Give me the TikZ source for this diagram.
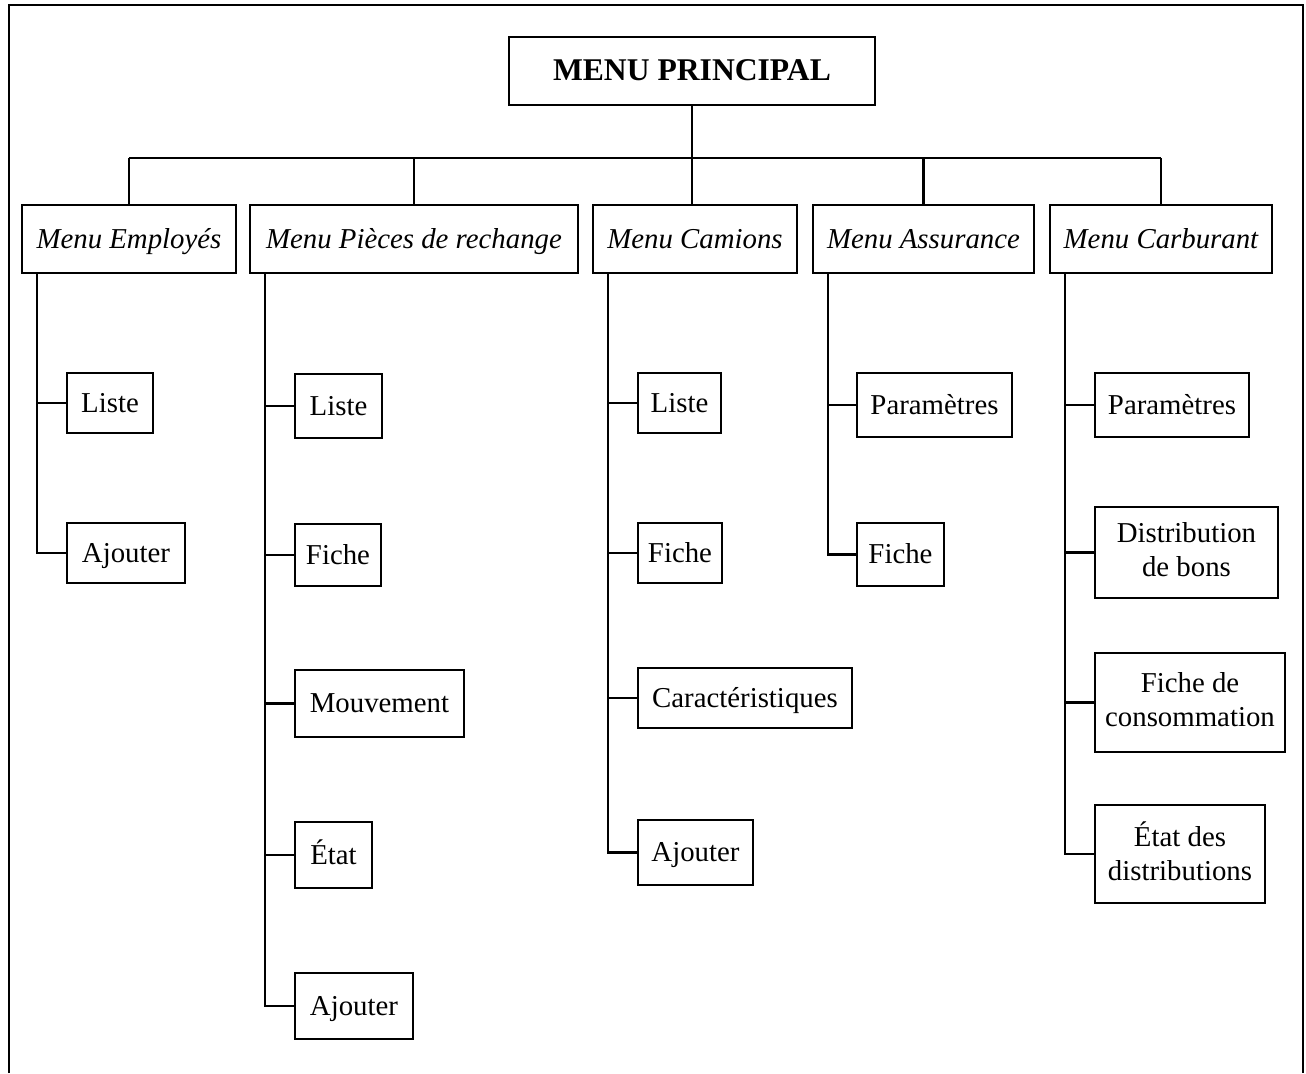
\documentclass[tikz,border=0pt]{standalone}
\usepackage{fontspec}
\setmainfont{Liberation Serif}
% balanced strut: keeps capital letters vertically centred in the boxes
\newcommand\capstrut{\rule[-3.2pt]{0pt}{17.2pt}}
\begin{document}
\begin{tikzpicture}[x=0.02cm, y=-0.02cm,
  box/.style={draw, line width=1pt, anchor=north west, inner sep=0pt, outer sep=0pt,
    align=center, font=\fontsize{16.4}{19.5}\selectfont,
    execute at begin node=\capstrut, execute at end node=\capstrut},
  menu/.style={box, font=\fontsize{16.4}{19.5}\selectfont\itshape},
  link/.style={line width=1.2pt, line join=miter}]
\useasboundingbox (0,0) rectangle (1306,1073);
% open outer frame
\draw[line width=1.1pt] (9,1073) -- (9,5) -- (1303,5) -- (1303,1073);

% root
\node[box, font=\fontsize{18}{20}\selectfont\bfseries, minimum width=7.32cm, minimum height=1.36cm] (main) at (509,37) {MENU PRINCIPAL};

% first level
\node[menu, minimum width=4.28cm, minimum height=1.36cm] (emp) at (22,205) {Menu Employés};
\node[menu, minimum width=6.56cm, minimum height=1.36cm] (pie) at (250,205) {Menu Pièces de rechange};
\node[menu, minimum width=4.08cm, minimum height=1.36cm] (cam) at (593,205) {Menu Camions};
\node[menu, minimum width=4.42cm, minimum height=1.36cm] (ass) at (813,205) {Menu Assurance};
\node[menu, minimum width=4.44cm, minimum height=1.36cm] (car) at (1050,205) {Menu Carburant};

% Employes
\node[box, minimum width=1.72cm, minimum height=1.2cm] (e1) at (67,373) {Liste};
\node[box, minimum width=2.36cm, minimum height=1.2cm] (e2) at (67,523) {Ajouter};

% Pieces de rechange
\node[box, minimum width=1.74cm, minimum height=1.28cm] (p1) at (295,374) {Liste};
\node[box, minimum width=1.72cm, minimum height=1.24cm] (p2) at (295,524) {Fiche};
\node[box, minimum width=3.38cm, minimum height=1.34cm] (p3) at (295,670) {Mouvement};
\node[box, minimum width=1.54cm, minimum height=1.32cm] (p4) at (295,822) {État};
\node[box, minimum width=2.36cm, minimum height=1.32cm] (p5) at (295,973) {Ajouter};

% Camions
\node[box, minimum width=1.66cm, minimum height=1.2cm] (c1) at (638,373) {Liste};
\node[box, minimum width=1.68cm, minimum height=1.2cm] (c2) at (638,523) {Fiche};
\node[box, minimum width=4.28cm, minimum height=1.2cm] (c3) at (638,668) {Caractéristiques};
\node[box, minimum width=2.3cm, minimum height=1.3cm] (c4) at (638,820) {Ajouter};

% Assurance
\node[box, minimum width=3.1cm, minimum height=1.28cm] (a1) at (857,373) {Paramètres};
\node[box, minimum width=1.74cm, minimum height=1.26cm] (a2) at (857,523) {Fiche};

% Carburant
\node[box, minimum width=3.08cm, minimum height=1.28cm] (k1) at (1095,373) {Paramètres};
\node[box, minimum width=3.66cm, minimum height=1.82cm] (k2) at (1095,507) {Distribution\\de bons};
\node[box, minimum width=3.8cm, minimum height=1.98cm] (k3) at (1095,653) {Fiche de\\consommation};
\node[box, minimum width=3.4cm, minimum height=1.96cm] (k4) at (1095,805) {État des\\distributions};

% root to first level
\coordinate (bus) at (692,158);
\draw[link] (main.south) -- (main.south |- cam.north);
\draw[link] (emp.north |- bus) -- (car.north |- bus);
\foreach \m in {emp,pie,ass,car}
  \draw[link] (\m.north |- bus) -- (\m.north);

% trunks and branches
\foreach \m/\kids in {emp/{e1,e2}, pie/{p1,p2,p3,p4,p5}, cam/{c1,c2,c3,c4}, ass/{a1,a2}, car/{k1,k2,k3,k4}}
  \foreach \k in \kids
    \draw[link] ([xshift=0.3cm]\m.south west) |- (\k.west);
\end{tikzpicture}
\end{document}
